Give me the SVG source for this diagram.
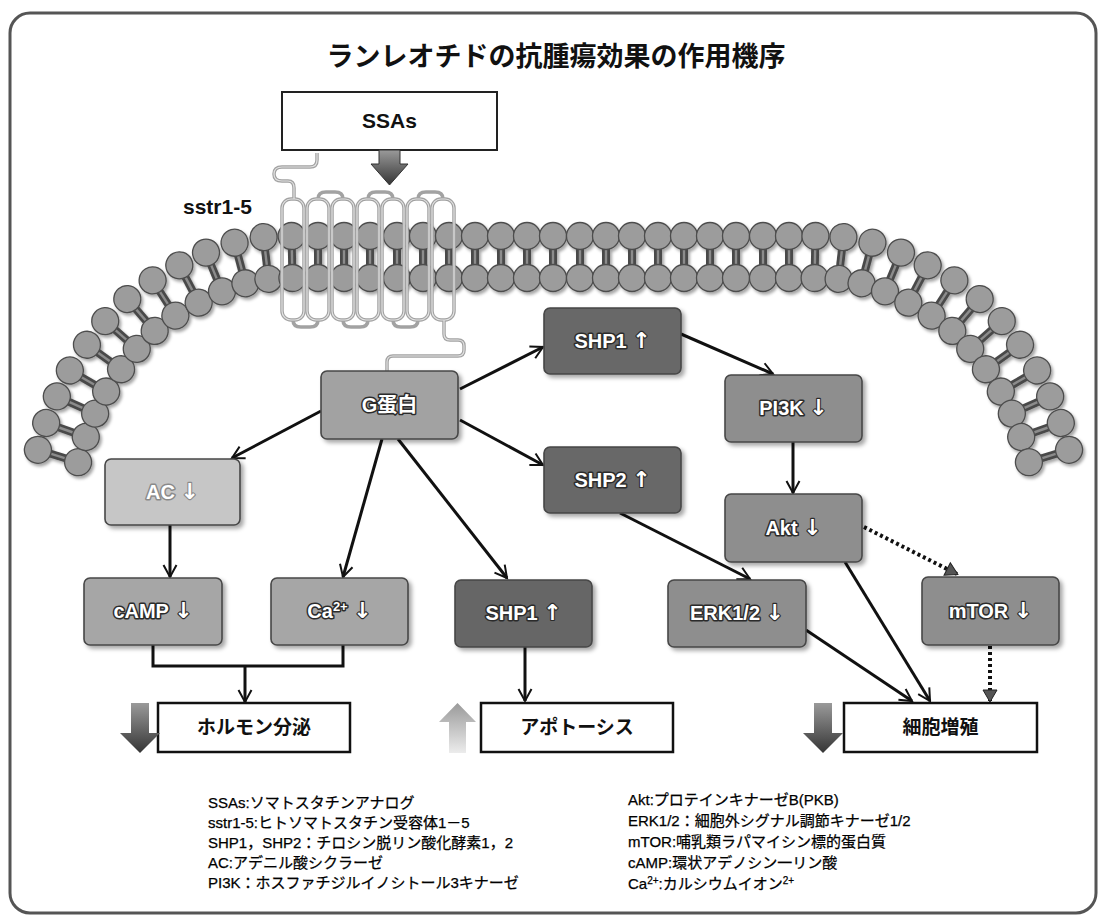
<svg xmlns="http://www.w3.org/2000/svg" width="1099" height="920" viewBox="0 0 1099 920">
  <style>
    .node rect { stroke: #474747; stroke-width: 1.6; }
    .lbl { font-family: "Liberation Sans", "Noto Sans CJK JP", sans-serif; font-weight: bold; font-size: 20px; fill: #fff; stroke: #2b2b2b; stroke-width: 3; paint-order: stroke; stroke-linejoin: round; text-anchor: middle; }
    .ar { font-family: "DejaVu Sans", sans-serif; font-size: 22px; stroke-width: 2.2; }
    .conn { stroke: #111; stroke-width: 3; fill: none; marker-end: url(#arr); }
    .plain { stroke: #111; stroke-width: 3; fill: none; }
    .dotted { stroke: #111; stroke-width: 4; stroke-dasharray: 3 3; fill: none; marker-end: url(#tri); }
    .out rect { fill: #fff; stroke: #111; stroke-width: 2.5; }
    .out text { font-family: "Liberation Sans", "Noto Sans CJK JP", sans-serif; font-weight: bold; font-size: 19px; text-anchor: middle; fill: #111; }
    .leg { font-family: "Liberation Sans", "Noto Sans CJK JP", sans-serif; font-size: 15px; fill: #000; stroke: #000; stroke-width: 0.25; }
    .helix { fill: none; stroke: #a2a2a2; stroke-width: 3.5; }
    .helix-in { fill: none; stroke: #e2e2e2; stroke-width: 1.2; }
  </style>
  <defs>
    <filter id="sh" x="-20%" y="-20%" width="140%" height="150%">
      <feDropShadow dx="3" dy="3" stdDeviation="2" flood-color="#000" flood-opacity="0.35"/>
    </filter>
    <filter id="msh" filterUnits="userSpaceOnUse" x="0" y="180" width="1099" height="320">
      <feDropShadow dx="2" dy="2.5" stdDeviation="1.5" flood-color="#000" flood-opacity="0.35"/>
    </filter>
    <marker id="lipid" markerUnits="userSpaceOnUse" orient="auto" refX="0" refY="0" markerWidth="60" markerHeight="60" overflow="visible">
      <rect x="-4" y="-12" width="8" height="24" fill="#4a4a4a"/>
      <rect x="-1.2" y="-12" width="2.4" height="24" fill="#8c8c8c"/>
      <circle cx="0" cy="-21" r="13.5" fill="#9c9c9c" stroke="#4d4d4d" stroke-width="1.3"/>
      <circle cx="0" cy="21" r="13.5" fill="#9c9c9c" stroke="#4d4d4d" stroke-width="1.3"/>
    </marker>
    <marker id="arr" markerUnits="userSpaceOnUse" orient="auto" refX="0" refY="0" markerWidth="30" markerHeight="30" overflow="visible">
      <path d="M-12,-6.5 L0,0 L-12,6.5" fill="none" stroke="#111" stroke-width="2"/>
    </marker>
    <marker id="tri" markerUnits="userSpaceOnUse" orient="auto" refX="0" refY="0" markerWidth="30" markerHeight="30" overflow="visible">
      <path d="M-11,-7 L1,0 L-11,7 Z" fill="#555" stroke="#222" stroke-width="1"/>
    </marker>
    <linearGradient id="darkArrow" x1="0" y1="0" x2="0" y2="1">
      <stop offset="0" stop-color="#9a9a9a"/>
      <stop offset="1" stop-color="#353535"/>
    </linearGradient>
    <linearGradient id="lightArrow" x1="0" y1="0" x2="0" y2="1">
      <stop offset="0" stop-color="#9a9a9a"/>
      <stop offset="1" stop-color="#ececec"/>
    </linearGradient>
  </defs>

  <!-- frame -->
  <rect x="10" y="13" width="1086" height="900" rx="20" fill="#fff" stroke="#555" stroke-width="3"/>

  <!-- title -->
  <text x="556" y="66" font-family="'Noto Sans CJK JP', sans-serif" font-weight="bold" font-size="27" text-anchor="middle" fill="#111">ランレオチドの抗腫瘍効果の作用機序</text>

  <!-- lipid bilayer -->
  <g id="membrane" filter="url(#msh)">
    <polyline fill="none" stroke="none" marker-start="url(#lipid)" marker-mid="url(#lipid)" marker-end="url(#lipid)"
      points="58,456 66,430 76,405 88,381 104,357 121,335 141,315 164,298 189,284 214,272 240,263 266,258 292,257 318,257 344,257 370,257 397,257 423,257 449,257 475,257 501,257 527,257 553,257 580,257 606,257 632,257 658,257 684,257 710,257 736,257 763,257 789,257 815,257 841,258 867,263 893,272 918,284 943,298 966,315 986,335 1003,357 1019,381 1031,405 1041,430 1049,456"/>
  </g>

  <!-- receptor sstr1-5 -->
  <g id="receptor">
    <g class="helix">
      <rect x="282" y="199" width="22" height="121" rx="9"/>
      <rect x="307" y="199" width="22" height="121" rx="9"/>
      <rect x="332" y="199" width="22" height="121" rx="9"/>
      <rect x="357" y="199" width="22" height="121" rx="9"/>
      <rect x="382" y="199" width="22" height="121" rx="9"/>
      <rect x="407" y="199" width="22" height="121" rx="9"/>
      <rect x="432" y="199" width="22" height="121" rx="9"/>
      <path d="M318,199 Q318,192 326,192 H335 Q343,192 343,199"/>
      <path d="M368,199 Q368,192 376,192 H385 Q393,192 393,199"/>
      <path d="M418,199 Q418,192 426,192 H435 Q443,192 443,199"/>
      <path d="M293,320 Q293,327 301,327 H310 Q318,327 318,320"/>
      <path d="M343,320 Q343,327 351,327 H360 Q368,327 368,320"/>
      <path d="M393,320 Q393,327 401,327 H410 Q418,327 418,320"/>
      <path d="M317,153 V160 Q317,167 310,167 H282 Q274,167 274,174 Q274,181 282,181 H288 Q294,181 294,188 V199"/>
      <path d="M444,320 V334 Q444,340 450,340 H458 Q464,340 464,346 V350 Q464,356 458,356 H393 Q387,356 387,362 V371"/>
    </g>
    <g class="helix-in">
      <rect x="282" y="199" width="22" height="121" rx="9"/>
      <rect x="307" y="199" width="22" height="121" rx="9"/>
      <rect x="332" y="199" width="22" height="121" rx="9"/>
      <rect x="357" y="199" width="22" height="121" rx="9"/>
      <rect x="382" y="199" width="22" height="121" rx="9"/>
      <rect x="407" y="199" width="22" height="121" rx="9"/>
      <rect x="432" y="199" width="22" height="121" rx="9"/>
      <path d="M317,153 V160 Q317,167 310,167 H282 Q274,167 274,174 Q274,181 282,181 H288 Q294,181 294,188 V199"/>
      <path d="M444,320 V334 Q444,340 450,340 H458 Q464,340 464,346 V350 Q464,356 458,356 H393 Q387,356 387,362 V371"/>
    </g>
    <text x="183" y="214" font-family="'Liberation Sans', sans-serif" font-weight="bold" font-size="21" fill="#111">sstr1-5</text>
  </g>

  <!-- ligand -->
  <g id="ssas">
    <rect x="282" y="92" width="215" height="58" fill="#fff" stroke="#222" stroke-width="2"/>
    <text x="389.5" y="128" font-family="'Liberation Sans', sans-serif" font-weight="bold" font-size="21" text-anchor="middle" fill="#111">SSAs</text>
    <path d="M379,150 H400 V164 H408 L389.5,185 L371,164 H379 Z" fill="url(#darkArrow)" stroke="#333" stroke-width="1"/>
  </g>

  <!-- connectors -->
  <g id="connectors">
    <path class="conn" d="M460,389 L543,347"/>
    <path class="conn" d="M460,420 L543,465"/>
    <path class="conn" d="M321,411 L232,458"/>
    <path class="conn" d="M382,439 L343,577"/>
    <path class="conn" d="M398,439 L507,578"/>
    <path class="conn" d="M170,525 L170,577"/>
    <path class="plain" d="M153,645 V666 H343 V645"/>
    <path class="conn" d="M245,666 V702"/>
    <path class="conn" d="M681,334 L773,374"/>
    <path class="conn" d="M793,442 L793,493"/>
    <path class="conn" d="M620,513 L750,579"/>
    <path class="conn" d="M525,647 L525,701"/>
    <path class="conn" d="M845,562 L930,701"/>
    <path class="conn" d="M806,630 L912,701"/>
    <path class="dotted" d="M864,527 L957,574"/>
    <path class="dotted" d="M990,646 L990,701"/>
  </g>

  <!-- signalling nodes -->
  <g id="g-protein" class="node">
    <rect x="321" y="371" width="137" height="68" rx="6" fill="#a2a2a2" filter="url(#sh)"/>
    <text class="lbl" x="389.5" y="412">G蛋白</text>
  </g>
  <g id="shp1-top" class="node">
    <rect x="544" y="308" width="137" height="66" rx="6" fill="#676767" filter="url(#sh)"/>
    <text class="lbl" x="612.5" y="348">SHP1 <tspan class="ar">↑</tspan></text>
  </g>
  <g id="shp2" class="node">
    <rect x="544" y="447" width="137" height="66" rx="6" fill="#676767" filter="url(#sh)"/>
    <text class="lbl" x="612.5" y="487">SHP2 <tspan class="ar">↑</tspan></text>
  </g>
  <g id="pi3k" class="node">
    <rect x="725" y="375" width="137" height="67" rx="6" fill="#8e8e8e" filter="url(#sh)"/>
    <text class="lbl" x="793.5" y="415">PI3K <tspan class="ar">↓</tspan></text>
  </g>
  <g id="akt" class="node">
    <rect x="725" y="494" width="137" height="68" rx="6" fill="#8e8e8e" filter="url(#sh)"/>
    <text class="lbl" x="793.5" y="535">Akt <tspan class="ar">↓</tspan></text>
  </g>
  <g id="mtor" class="node">
    <rect x="922" y="577" width="137" height="68" rx="6" fill="#8e8e8e" filter="url(#sh)"/>
    <text class="lbl" x="990.5" y="618">mTOR <tspan class="ar">↓</tspan></text>
  </g>
  <g id="erk" class="node">
    <rect x="668" y="580" width="138" height="67" rx="6" fill="#8e8e8e" filter="url(#sh)"/>
    <text class="lbl" x="737" y="620">ERK1/2 <tspan class="ar">↓</tspan></text>
  </g>
  <g id="shp1-low" class="node">
    <rect x="455" y="580" width="137" height="67" rx="6" fill="#666" filter="url(#sh)"/>
    <text class="lbl" x="523.5" y="620">SHP1 <tspan class="ar">↑</tspan></text>
  </g>
  <g id="ac" class="node">
    <rect x="105" y="459" width="135" height="66" rx="6" fill="#c6c6c6" stroke="#8a8a8a" filter="url(#sh)"/>
    <text class="lbl" x="172.5" y="499" style="stroke:#8a8a8a">AC <tspan class="ar">↓</tspan></text>
  </g>
  <g id="camp" class="node">
    <rect x="84" y="578" width="138" height="67" rx="6" fill="#a6a6a6" filter="url(#sh)"/>
    <text class="lbl" x="153" y="618">cAMP <tspan class="ar">↓</tspan></text>
  </g>
  <g id="ca" class="node">
    <rect x="271" y="578" width="137" height="67" rx="6" fill="#a6a6a6" filter="url(#sh)"/>
    <text class="lbl" x="339.5" y="618">Ca<tspan font-size="13" dy="-7">2+</tspan><tspan dy="7"> </tspan><tspan class="ar">↓</tspan></text>
  </g>

  <!-- outcomes -->
  <g id="hormone" class="out">
    <rect x="158" y="703" width="192" height="49"/>
    <text x="254" y="734">ホルモン分泌</text>
    <path d="M131,703 H149 V733 H160 L140,753 L120,733 H131 Z" fill="url(#darkArrow)"/>
  </g>
  <g id="apoptosis" class="out">
    <rect x="481" y="703" width="192" height="49"/>
    <text x="577" y="734">アポトーシス</text>
    <path d="M449,753 H466 V722 H476 L457.5,703 L439,722 H449 Z" fill="url(#lightArrow)"/>
  </g>
  <g id="proliferation" class="out">
    <rect x="844" y="703" width="193" height="49"/>
    <text x="940.5" y="734">細胞増殖</text>
    <path d="M814,703 H832 V733 H843 L823,753 L803,733 H814 Z" fill="url(#darkArrow)"/>
  </g>

  <!-- abbreviations -->
  <g id="legend-left" class="leg">
    <text x="208" y="808">SSAs:ソマトスタチンアナログ</text>
    <text x="208" y="828">sstr1-5:ヒトソマトスタチン受容体1－5</text>
    <text x="208" y="848">SHP1，SHP2：チロシン脱リン酸化酵素1，2</text>
    <text x="208" y="868">AC:アデニル酸シクラーゼ</text>
    <text x="208" y="888">PI3K：ホスファチジルイノシトール3キナーゼ</text>
  </g>
  <g id="legend-right" class="leg">
    <text x="628" y="805">Akt:プロテインキナーゼB(PKB)</text>
    <text x="628" y="826">ERK1/2：細胞外シグナル調節キナーゼ1/2</text>
    <text x="628" y="847">mTOR:哺乳類ラパマイシン標的蛋白質</text>
    <text x="628" y="868">cAMP:環状アデノシン一リン酸</text>
    <text x="628" y="889">Ca<tspan font-size="10" dy="-5">2+</tspan><tspan dy="5">:カルシウムイオン</tspan><tspan font-size="10" dy="-5">2+</tspan></text>
  </g>
</svg>
